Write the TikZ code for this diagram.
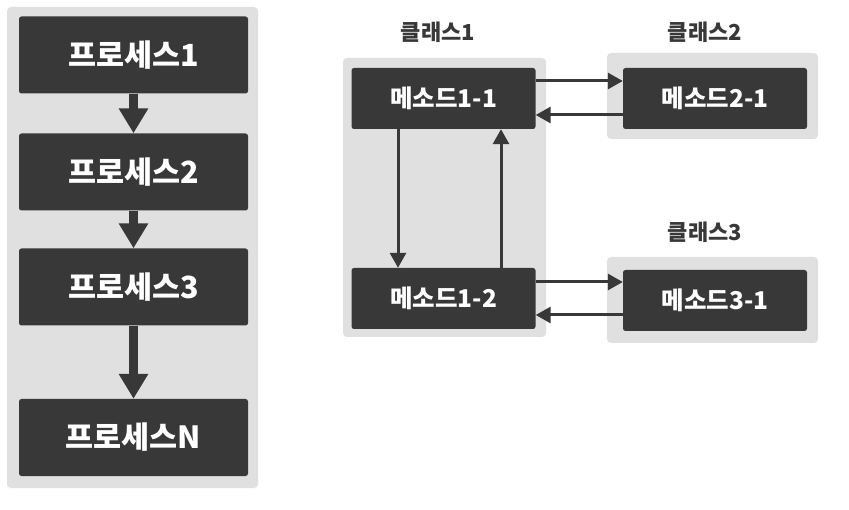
\documentclass[tikz,border=0pt]{standalone}
\usepackage{fontspec}
\newfontfamily\kr{Noto Sans CJK KR}
\usetikzlibrary{arrows.meta}
\definecolor{boxdark}{HTML}{383838}
\definecolor{panelgray}{HTML}{E0E0E0}
\tikzset{
  panel/.style={fill=panelgray, draw=none, rounded corners=4pt, inner sep=0pt},
  procbox/.style={fill=boxdark, draw=none, rounded corners=2.5pt, inner sep=0pt,
    minimum width=229pt, minimum height=77pt, text=white, font=\kr\bfseries\fontsize{30.5}{34}\selectfont},
  methbox/.style={fill=boxdark, draw=none, rounded corners=2.5pt, inner sep=0pt,
    minimum width=184pt, minimum height=61pt, text=white, font=\kr\bfseries\fontsize{24.5}{28}\selectfont},
  classlabel/.style={inner sep=0pt, text=boxdark, font=\kr\bfseries\fontsize{22}{26}\selectfont},
  thickarrow/.style={draw=boxdark, line width=9pt, -{Triangle[width=28pt,length=25pt]}},
  thinarrow/.style={draw=boxdark, line width=3pt, -{Triangle[width=16pt,length=15pt]}}
}
\begin{document}
\begin{tikzpicture}[x=1pt,y=-1pt]
\useasboundingbox (0,0) rectangle (849,510);
\fill[white] (0,0) rectangle (849,510);
% left panel
\fill[panelgray, rounded corners=4pt] (7,7) rectangle (258,488);
\node[procbox] (p1) at (133.5,55) {프로세스1};
\node[procbox] (p2) at (133.5,172) {프로세스2};
\node[procbox] (p3) at (133.5,287) {프로세스3};
\node[procbox] (pn) at (133.5,437.5) {프로세스N};
\draw[thickarrow] (p1.south) -- (p2.north);
\draw[thickarrow] (p2.south) -- (p3.north);
\draw[thickarrow] (p3.south) -- (pn.north);
% class panels
\fill[panelgray, rounded corners=4pt] (343,58) rectangle (546,337);
\fill[panelgray, rounded corners=4pt] (607,53) rectangle (818,139);
\fill[panelgray, rounded corners=4pt] (607,257) rectangle (818,343);
\node[classlabel] (c1) at (438,32) {클래스1};
\node[classlabel] (c2) at (705,32) {클래스2};
\node[classlabel] (c3) at (705,232) {클래스3};
\node[methbox] (m11) at (443.5,98.5) {메소드1-1};
\node[methbox] (m12) at (443.5,298.5) {메소드1-2};
\node[methbox] (m21) at (715,98.5) {메소드2-1};
\node[methbox] (m31) at (715,300.5) {메소드3-1};
\draw[thinarrow] ([yshift=17.5pt]m11.east) -- ([yshift=17.5pt]m21.west);
\draw[thinarrow] ([yshift=-16.5pt]m21.west) -- ([yshift=-16.5pt]m11.east);
\draw[thinarrow] ([xshift=-45.5pt]m11.south) -- ([xshift=-45.5pt]m12.north);
\draw[thinarrow] ([xshift=57.5pt]m12.north) -- ([xshift=57.5pt]m11.south);
\draw[thinarrow] ([yshift=16.5pt]m12.east) -- ([yshift=18.5pt]m31.west);
\draw[thinarrow] ([yshift=-14.5pt]m31.west) -- ([yshift=-16.5pt]m12.east);
\end{tikzpicture}
\end{document}
